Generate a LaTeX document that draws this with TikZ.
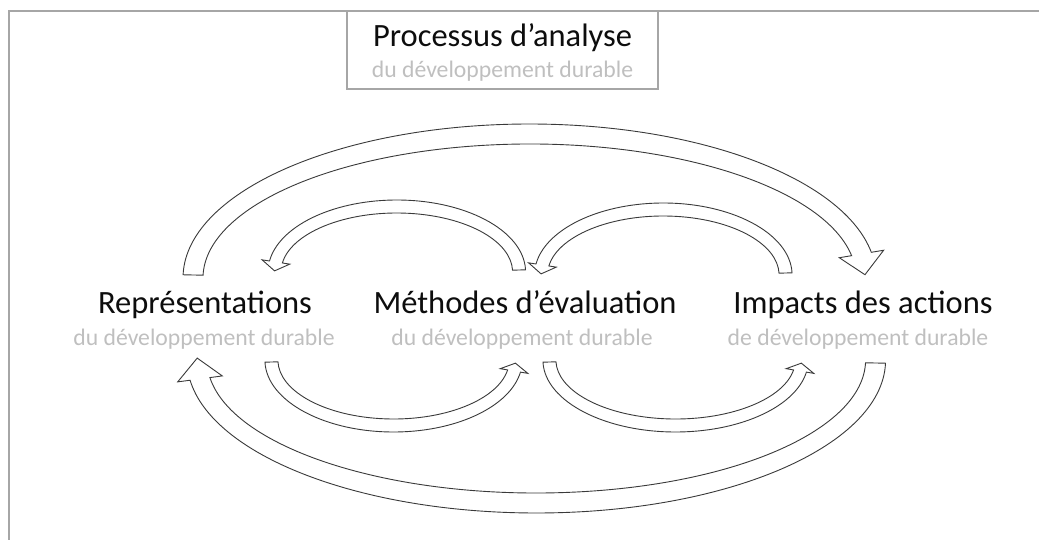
\documentclass[tikz,border=0pt]{standalone}
\usepackage{fontspec}
\setmainfont{Carlito}
\definecolor{framegray}{HTML}{A6A6A6}
\definecolor{subgray}{HTML}{BFBFBF}
\definecolor{arrowgray}{HTML}{3A3A3A}
% hollow curved block arrow on an ellipse
% #1 centre, #2 x radius, #3 y radius, #4 tail angle, #5 head angle,
% #6 half shaft, #7 half head, #8 head length
\newcommand{\blockarc}[8]{%
  \pgfmathsetmacro{\sg}{sign(#5-#4)}
  \pgfmathsetmacro{\px}{#2*cos(#5)}
  \pgfmathsetmacro{\py}{#3*sin(#5)}
  \pgfmathsetmacro{\ux}{cos(#5)}
  \pgfmathsetmacro{\uy}{sin(#5)}
  \pgfmathsetmacro{\ao}{#2+#6}
  \pgfmathsetmacro{\bo}{#3+#6}
  \pgfmathsetmacro{\ai}{#2-#6}
  \pgfmathsetmacro{\bi}{#3-#6}
  \draw[blockarrow,shift={(#1)}]
    ({\ao*cos(#4)},{\bo*sin(#4)})
    arc[start angle=#4,end angle=#5,x radius=\ao,y radius=\bo]
    -- ({\px+#7*(\ux)},{\py+#7*(\uy)})
    -- ({\px-(\sg)*#8*(\uy)},{\py+(\sg)*#8*(\ux)})
    -- ({\px-#7*(\ux)},{\py-#7*(\uy)})
    -- ({\px-#6*(\ux)},{\py-#6*(\uy)})
    arc[start angle=#5,end angle=#4,x radius=\ai,y radius=\bi]
    -- cycle;}

\begin{document}
\begin{tikzpicture}
    [x=1pt,y=1pt,
     maintext/.style={inner sep=0pt,anchor=base,text=black!95,font=\fontsize{32.5}{39}\selectfont},
     subtext/.style={inner sep=0pt,anchor=base,text=subgray,font=\fontsize{23.7}{28}\selectfont},
     blockarrow/.style={draw=arrowgray,fill=white,line width=0.9pt,line join=miter}]
    \useasboundingbox (0,0) rectangle (1039,-540);
    % frame
    \draw[framegray,line width=1.5pt] (1045,-11) -- (9,-11) -- (9,-545);
    \node[draw=framegray,line width=1.2pt,minimum width=311pt,minimum height=78pt,inner sep=0pt]
      (titlebox) at (502.5,-50) {};
    \node[maintext] (title) at (502.5,-47) {Processus d’analyse};
    \node[subtext] (titlesub) at (502.5,-78) {du développement durable};
    % the three stages
    \node[maintext] (repr) at (205,-313) {Représentations};
    \node[subtext] (reprsub) at (204,-345) {du développement durable};
    \node[maintext] (meth) at (525,-313) {Méthodes d’évaluation};
    \node[subtext] (methsub) at (522,-345) {du développement durable};
    \node[maintext] (impa) at (863,-313) {Impacts des actions};
    \node[subtext] (impasub) at (858,-345) {de développement durable};
    % centres of the arrows
    \coordinate (ctop) at (529.6,-278);
    \coordinate (ctl) at (396.8,-272);
    \coordinate (ctr) at (663.3,-275);
    \coordinate (cbl) at (393.6,-360);
    \coordinate (cbr) at (675.6,-360);
    \coordinate (cbot) at (536.3,-360);
    \blockarc{ctop}{336.6}{144}{178.8}{9.6}{10}{22.5}{21}
    \blockarc{ctl}{122.3}{65.5}{1.75}{171.2}{6.5}{14}{9}
    \blockarc{ctr}{122.3}{65.5}{1.75}{171.2}{6.5}{14}{9}
    \blockarc{cbl}{122.2}{65.5}{181.75}{350.3}{6.5}{14}{8}
    \blockarc{cbr}{126.2}{65.5}{181.75}{350.3}{6.5}{14}{8}
    \blockarc{cbot}{339.3}{143}{358.8}{187.6}{10}{22.5}{21}
  \end{tikzpicture}
\end{document}
